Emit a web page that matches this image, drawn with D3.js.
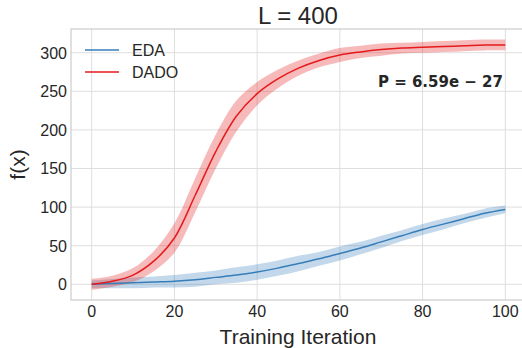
<!DOCTYPE html>
<html>
<head>
<meta charset="utf-8">
<script src="https://cdn.jsdelivr.net/npm/d3@7"></script>
<style>
    body { margin: 0; background: #fff; }
    svg { display: block; font-family: "Liberation Sans", Arial, sans-serif; }
</style>
</head>
<body>
<svg id="chart" width="522" height="348"></svg>
<script>
// iterations sampled every 5 steps
const iterations = [0, 5, 10, 15, 20, 25, 30, 35, 40, 45, 50, 55, 60, 65, 70, 75, 80, 85, 90, 95, 100];

// mean and spread
const edaMean = [0, 1, 2, 3, 4, 6, 9, 12, 16, 21, 27, 33, 40, 47, 55, 63, 71, 78, 85, 92, 97];
const edaSpread = [5, 6, 7, 7, 8, 9, 9, 10, 10, 10, 10, 9, 9, 8, 8, 7, 7, 7, 6, 6, 5];
const dadoMean = [0, 4, 12, 30, 60, 115, 172, 218, 247, 266, 280, 290, 297, 301, 304, 306, 307, 308, 309, 310, 310];
const dadoSpread = [7, 7, 9, 13, 19, 22, 22, 20, 15, 12, 10, 9, 9, 8, 8, 7, 7, 7, 7, 7, 7];

const xTicks = [0, 20, 40, 60, 80, 100];
const yTicks = [0, 50, 100, 150, 200, 250, 300];

const seriesNames = ["EDA", "DADO"];
const seriesColors = ["#377eb8", "#e41a1c"];

const title = "L = 400";
const xLabel = "Training Iteration";
const yLabel = "f(x)";
const pValue = "P = 6.59e \u2212 27";

const textColor = "#262626";
const gridColor = "#dedede";
const spineColor = "#cccccc";

const svg = d3.select("#chart");
const margin = { left: 71, top: 29, right: 526, bottom: 300 };

const x = d3.scaleLinear().domain([-5, 105]).range([margin.left, margin.right]);
const y = d3.scaleLinear().domain([-20.3, 330.7]).range([margin.bottom, margin.top]);

// grid
const grid = svg.append("g");
grid.selectAll("line.gx")
    .data(xTicks)
    .join("line")
    .attr("x1", d => x(d)).attr("x2", d => x(d))
    .attr("y1", margin.top).attr("y2", margin.bottom)
    .attr("stroke", gridColor).attr("stroke-width", 1);
grid.selectAll("line.gy")
    .data(yTicks)
    .join("line")
    .attr("x1", margin.left).attr("x2", margin.right)
    .attr("y1", d => y(d)).attr("y2", d => y(d))
    .attr("stroke", gridColor).attr("stroke-width", 1);

// spines
svg.append("rect")
    .attr("x", margin.left).attr("y", margin.top)
    .attr("width", margin.right - margin.left)
    .attr("height", margin.bottom - margin.top)
    .attr("fill", "none")
    .attr("stroke", spineColor).attr("stroke-width", 1.2);

// series
const series = [
    { mean: edaMean, spread: edaSpread },
    { mean: dadoMean, spread: dadoSpread }
];

const band = d3.area()
    .x((d, i) => x(iterations[i]))
    .y0(d => y(d[0] - d[1]))
    .y1(d => y(d[0] + d[1]))
    .curve(d3.curveCatmullRom);

const line = d3.line()
    .x((d, i) => x(iterations[i]))
    .y(d => y(d))
    .curve(d3.curveCatmullRom);

series.forEach((s, k) => {
    const pairs = s.mean.map((m, i) => [m, s.spread[i]]);
    svg.append("path")
        .attr("d", band(pairs))
        .attr("fill", seriesColors[k])
        .attr("fill-opacity", 0.3);
});
series.forEach((s, k) => {
    svg.append("path")
        .attr("d", line(s.mean))
        .attr("fill", "none")
        .attr("stroke", seriesColors[k])
        .attr("stroke-width", 1.5);
});

// tick labels
svg.append("g")
    .selectAll("text")
    .data(xTicks)
    .join("text")
    .attr("x", d => x(d))
    .attr("y", 317)
    .attr("text-anchor", "middle")
    .attr("font-size", 16)
    .attr("fill", textColor)
    .text(d => d);
svg.append("g")
    .selectAll("text")
    .data(yTicks)
    .join("text")
    .attr("x", 67)
    .attr("y", d => y(d) + 5.8)
    .attr("text-anchor", "end")
    .attr("font-size", 16)
    .attr("fill", textColor)
    .text(d => d);

// axis labels and title
svg.append("text")
    .attr("x", 298).attr("y", 344)
    .attr("text-anchor", "middle")
    .attr("font-size", 21)
    .attr("fill", textColor)
    .text(xLabel);
svg.append("text")
    .attr("transform", `translate(25,${(margin.top + margin.bottom) / 2}) rotate(-90)`)
    .attr("text-anchor", "middle")
    .attr("font-size", 21)
    .attr("fill", textColor)
    .text(yLabel);
svg.append("text")
    .attr("x", 298).attr("y", 24)
    .attr("text-anchor", "middle")
    .attr("font-size", 24)
    .attr("fill", textColor)
    .text(title);

// legend
const legend = svg.append("g");
seriesNames.forEach((name, k) => {
    const ly = 50 + k * 22;
    legend.append("line")
        .attr("x1", 85).attr("x2", 119)
        .attr("y1", ly).attr("y2", ly)
        .attr("stroke", seriesColors[k])
        .attr("stroke-width", 1.5);
    legend.append("text")
        .attr("x", 132).attr("y", ly + 5.8)
        .attr("font-size", 16)
        .attr("fill", textColor)
        .text(name);
});

// p-value note
svg.append("text")
    .attr("x", 503).attr("y", 87)
    .attr("text-anchor", "end")
    .attr("font-family", "DejaVu Sans")
    .attr("font-weight", "bold")
    .attr("font-size", 15)
    .attr("fill", textColor)
    .text(pValue);
</script>
</body>
</html>
